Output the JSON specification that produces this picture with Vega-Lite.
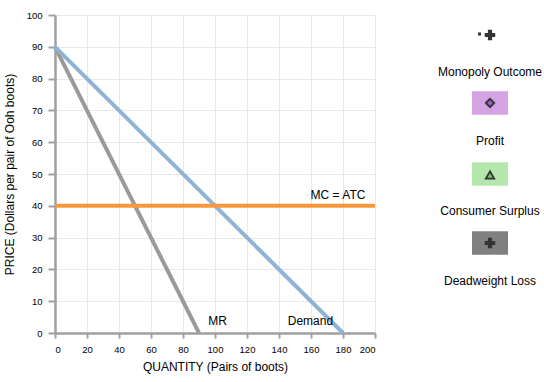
{
  "$schema": "https://vega.github.io/schema/vega-lite/v6.json",
  "background": "white",
  "padding": {"left": 3, "top": 10, "right": 0, "bottom": 5},
  "spacing": 38,
  "resolve": {"scale": {"color": "independent", "fill": "independent", "shape": "independent"}},
  "config": {
    "view": {"stroke": null},
    "font": "Liberation Sans",
    "axis": {
      "domainColor": "#a0a0a0", "domainWidth": 2.5,
      "tickColor": "#a0a0a0", "tickWidth": 2,
      "gridColor": "#e8e8e8", "gridWidth": 1,
      "labelColor": "#000", "labelFont": "Liberation Sans", "labelFontSize": 9.5,
      "titleColor": "#000", "titleFont": "Liberation Sans", "titleFontSize": 12, "titleFontWeight": "normal"
    }
  },
  "hconcat": [
    {
      "width": 320,
      "height": 318,
      "layer": [
        {
          "data": {"values": [
            {"curve": "MR", "q": 0, "p": 90},
            {"curve": "MR", "q": 90, "p": 0},
            {"curve": "Demand", "q": 0, "p": 90},
            {"curve": "Demand", "q": 180, "p": 0},
            {"curve": "MC = ATC", "q": 0, "p": 40},
            {"curve": "MC = ATC", "q": 200, "p": 40}
          ]},
          "mark": {"type": "line", "strokeWidth": 4, "strokeCap": "butt"},
          "encoding": {
            "x": {"field": "q", "type": "quantitative", "scale": {"domain": [0, 200], "nice": false},
                  "axis": {"values": [0,20,40,60,80,100,120,140,160,180,200], "tickCount": 11, "labelOverlap": false, "labelSeparation": 0, "grid": true, "tickSize": 5, "labelPadding": 6, "title": "QUANTITY (Pairs of boots)", "titlePadding": 8}},
            "y": {"field": "p", "type": "quantitative", "scale": {"domain": [0, 100], "nice": false},
                  "axis": {"values": [0,10,20,30,40,50,60,70,80,90,100], "tickCount": 11, "labelOverlap": false, "labelSeparation": 0, "grid": true, "tickSize": 7, "labelPadding": 6, "title": "PRICE (Dollars per pair of Ooh boots)", "titlePadding": 10}},
            "color": {"field": "curve", "type": "nominal", "legend": null,
                      "scale": {"domain": ["MR", "Demand", "MC = ATC"], "range": ["#9a9a9a", "#8db3d6", "#f7983a"]}}
          }
        },
        {
          "data": {"values": [
            {"label": "MR", "q": 107.5, "p": 1.6},
            {"label": "Demand", "q": 173.8, "p": 1.6},
            {"label": "MC = ATC", "q": 194, "p": 41.3}
          ]},
          "mark": {"type": "text", "align": "right", "baseline": "bottom", "fontSize": 12, "color": "#000", "font": "Liberation Sans"},
          "encoding": {
            "x": {"field": "q", "type": "quantitative"},
            "y": {"field": "p", "type": "quantitative"},
            "text": {"field": "label"}
          }
        }
      ]
    },
    {
      "width": 124,
      "height": 318,
      "resolve": {"scale": {"color": "independent", "fill": "independent", "shape": "independent"}},
      "layer": [
        {
          "data": {"values": [
            {"item": "Profit", "x": 69, "y": 88},
            {"item": "Consumer Surplus", "x": 69, "y": 159},
            {"item": "Deadweight Loss", "x": 69, "y": 228}
          ]},
          "mark": {"type": "point", "filled": true, "opacity": 1, "shape": "M-1,-0.65L1,-0.65L1,0.65L-1,0.65Z", "size": 1296, "strokeWidth": 0},
          "encoding": {
            "x": {"field": "x", "type": "quantitative", "scale": {"domain": [0, 124], "nice": false}, "axis": null},
            "y": {"field": "y", "type": "quantitative", "scale": {"domain": [0, 318], "nice": false, "reverse": true}, "axis": null},
            "color": {"field": "item", "type": "nominal", "legend": null,
                      "scale": {"domain": ["Profit", "Consumer Surplus", "Deadweight Loss"], "range": ["#d3a3e3", "#b4e7ab", "#808080"]}}
          }
        },
        {
          "data": {"values": [
            {"item": "Profit", "x": 69, "y": 88},
            {"item": "Consumer Surplus", "x": 69, "y": 160}
          ]},
          "mark": {"type": "point", "filled": true, "opacity": 1, "size": 70, "stroke": "#333", "strokeWidth": 1.8},
          "encoding": {
            "x": {"field": "x", "type": "quantitative"},
            "y": {"field": "y", "type": "quantitative"},
            "shape": {"field": "item", "type": "nominal", "legend": null,
                      "scale": {"domain": ["Profit", "Consumer Surplus"], "range": ["diamond", "triangle-up"]}},
            "fill": {"field": "item", "type": "nominal", "legend": null,
                     "scale": {"domain": ["Profit", "Consumer Surplus"], "range": ["#a45cc9", "#74c766"]}}
          }
        },
        {
          "data": {"values": [
            {"item": "Deadweight Loss", "x": 69, "y": 228},
            {"item": "Monopoly Outcome", "x": 69, "y": 20}
          ]},
          "mark": {"type": "point", "filled": true, "opacity": 1, "shape": "cross", "size": 110, "color": "#333"},
          "encoding": {
            "x": {"field": "x", "type": "quantitative"},
            "y": {"field": "y", "type": "quantitative"}
          }
        },
        {
          "data": {"values": [
            {"item": "Monopoly Outcome", "x": 58.5, "y": 19}
          ]},
          "mark": {"type": "point", "filled": true, "opacity": 1, "shape": "square", "size": 9, "color": "#333"},
          "encoding": {
            "x": {"field": "x", "type": "quantitative"},
            "y": {"field": "y", "type": "quantitative"}
          }
        },
        {
          "data": {"values": [
            {"label": "Monopoly Outcome", "x": 69, "y": 57},
            {"label": "Profit", "x": 69, "y": 126},
            {"label": "Consumer Surplus", "x": 69, "y": 196},
            {"label": "Deadweight Loss", "x": 69, "y": 266}
          ]},
          "mark": {"type": "text", "align": "center", "baseline": "middle", "fontSize": 12, "color": "#000", "font": "Liberation Sans"},
          "encoding": {
            "x": {"field": "x", "type": "quantitative"},
            "y": {"field": "y", "type": "quantitative"},
            "text": {"field": "label"}
          }
        }
      ]
    }
  ]
}
